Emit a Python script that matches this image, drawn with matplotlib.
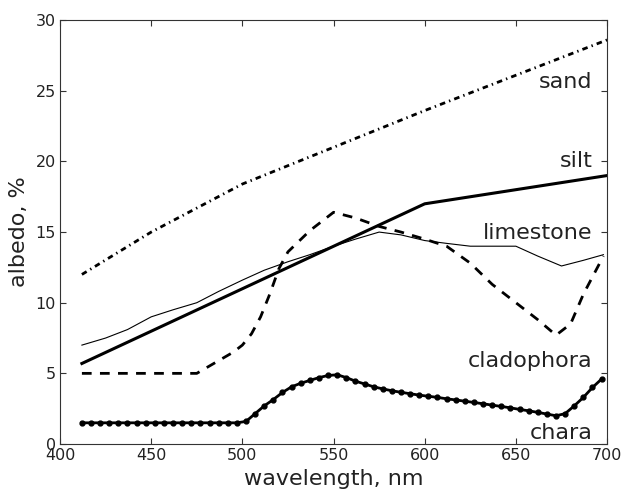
import numpy as np
import matplotlib
matplotlib.use('Agg')
import matplotlib.pyplot as plt

# --- datos ---
sand_x = [412, 450, 500, 550, 600, 650, 700]
sand_y = [12.0, 15.0, 18.4, 21.0, 23.6, 26.1, 28.6]

silt_x = [412, 600, 700]
silt_y = [5.7, 17.0, 19.0]

lime_x = [412, 425, 437, 450, 462, 475, 487, 500, 512, 525, 537, 550,
          562, 575, 587, 600, 612, 625, 637, 650, 662, 675, 687, 698]
lime_y = [7.0, 7.5, 8.1, 9.0, 9.5, 10.0, 10.8, 11.6, 12.3, 12.9, 13.4, 14.0,
          14.5, 15.0, 14.8, 14.4, 14.2, 14.0, 14.0, 14.0, 13.3, 12.6, 13.0, 13.4]

clad_x = [412, 475, 487, 495, 500, 505, 510, 515, 520, 525, 537, 550,
          562, 575, 587, 600, 612, 625, 637, 650, 662, 672, 680, 687, 698]
clad_y = [5.0, 5.0, 5.9, 6.5, 7.0, 7.8, 9.0, 10.6, 12.4, 13.6, 15.1, 16.4,
          16.0, 15.4, 15.0, 14.5, 14.0, 12.8, 11.3, 10.0, 8.8, 7.7, 8.5, 10.6, 13.3]

chara_x = np.arange(412, 698, 5)
chara_y = [1.5] * 18 + [1.6, 2.15, 2.7, 3.15, 3.65, 4.05, 4.3, 4.5, 4.7, 4.85,
                        4.9, 4.7, 4.45, 4.25, 4.05, 3.9, 3.77, 3.66, 3.56, 3.46,
                        3.38, 3.3, 3.2, 3.12, 3.03, 2.94, 2.85, 2.75, 2.66, 2.56,
                        2.45, 2.35, 2.24, 2.12, 2.0, 2.15, 2.7, 3.3, 4.0, 4.6]

labels = ['sand', 'silt', 'limestone', 'cladophora', 'chara']
label_y = [25.6, 20.0, 14.9, 5.9, 0.8]

fig = plt.figure(figsize=(6.22, 4.91), dpi=100)
ax = fig.add_axes([0.0965, 0.0957, 0.8795, 0.8633])

ax.plot(sand_x, sand_y, color='k', lw=2, linestyle=(0, (2, 1.5, 0.5, 1.5)))
ax.plot(silt_x, silt_y, color='k', lw=2.2)
ax.plot(lime_x, lime_y, color='k', lw=0.8)
ax.plot(clad_x, clad_y, color='k', lw=2, linestyle=(0, (3.5, 3)))
ax.plot(chara_x, chara_y, color='k', lw=2, marker='o', ms=3.5)

for s, yy in zip(labels, label_y):
    ax.text(692, yy, s, fontsize=16, ha='right', va='center', color='#222222')

ax.set_xlim(400, 700)
ax.set_ylim(0, 30)
ax.set_xticks(np.arange(400, 701, 50))
ax.set_yticks(np.arange(0, 31, 5))
for sp in ax.spines.values():
    sp.set_color('#333333')
ax.tick_params(direction='in', top=True, right=True, labelsize=11.5, length=4,
               pad=3, colors='#333333', labelcolor='#222222')
ax.set_xlabel('wavelength, nm', fontsize=16, labelpad=4, color='#222222')
ax.set_ylabel('albedo, %', fontsize=16, labelpad=5, color='#222222')

plt.savefig('out.png')
